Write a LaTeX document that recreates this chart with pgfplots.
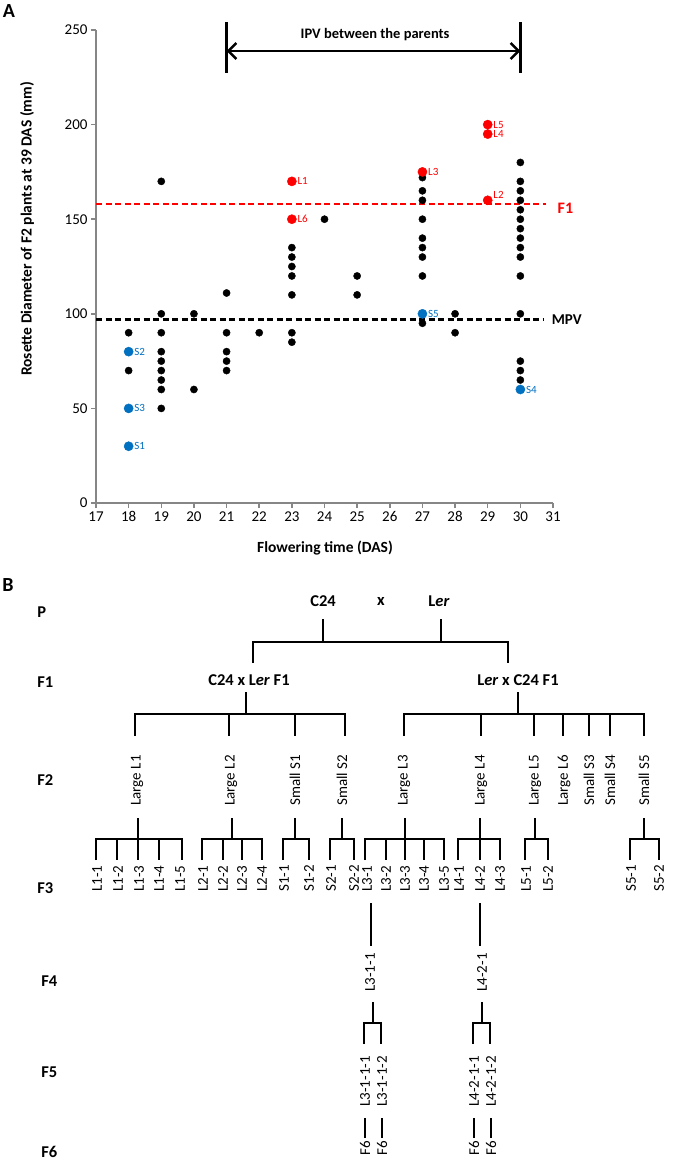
\documentclass[border=0pt]{standalone}
\usepackage{fontspec}
\setmainfont{Carlito}
\usepackage{pgfplots}
\pgfplotsset{compat=1.18}
\usetikzlibrary{arrows.meta}
\definecolor{axgray}{RGB}{134,134,134}
\definecolor{xlred}{RGB}{255,0,0}
\definecolor{xlblue}{RGB}{0,112,192}
\newcommand{\fs}[1]{\fontsize{#1}{#1}\selectfont}
\begin{document}
\begin{tikzpicture}
\useasboundingbox (0,0) rectangle (677pt,-1160pt);
\begin{axis}[
  at={(96pt,-503pt)}, anchor=south west,
  scale only axis, width=457pt, height=473pt,
  xmin=17, xmax=31, ymin=0, ymax=250,
  xtick={17,...,31}, ytick={0,50,...,250},
  axis x line*=bottom, axis y line*=left,
  axis line style={axgray, line width=2pt},
  major tick style={axgray, line width=1.5pt},
  major tick length=5pt, tick align=outside,
  tick label style={font=\fs{15}},
  /pgf/number format/assume math mode=true,
  clip=false,
]
% reference lines
\addplot[xlred, line width=2.2pt, dash pattern=on 6pt off 3.5pt] coordinates {(17,158) (30.8,158)};
\addplot[black, line width=2.2pt, dash pattern=on 6pt off 3.5pt] coordinates {(17,97) (30.7,97)};
% F2 plants
\addplot[only marks, mark=*, mark size=3.6pt, black] table {
x y
18 90
18 70
19 170
19 100
19 90
19 80
19 75
19 70
19 65
19 60
19 50
20 100
20 60
21 111
21 90
21 80
21 75
21 70
22 90
23 135
23 130
23 125
23 120
23 110
23 90
23 85
24 150
25 120
25 110
27 172
27 165
27 160
27 150
27 140
27 135
27 130
27 120
27 95
28 100
28 90
30 180
30 170
30 165
30 160
30 155
30 150
30 145
30 140
30 135
30 130
30 120
30 100
30 75
30 70
30 65
};
% large selected
\addplot[only marks, mark=*, mark size=4.6pt, color=xlred, mark options={fill=xlred, draw=xlred},
  nodes near coords, point meta=explicit symbolic,
  nodes near coords style={anchor=west, xshift=4.5pt, inner sep=1pt, text=xlred, font=\fs{11}}]
  table[meta=lab] {
x y lab
23 170 L1
23 150 L6
27 175 L3
29 200 L5
29 195 L4
};
\addplot[only marks, mark=*, mark size=4.6pt, color=xlred, mark options={fill=xlred, draw=xlred},
  nodes near coords, point meta=explicit symbolic,
  nodes near coords style={anchor=west, xshift=4.5pt, yshift=5pt, inner sep=1pt, text=xlred, font=\fs{11}}]
  table[meta=lab] {
x y lab
29 160 L2
};
% small selected
\addplot[only marks, mark=*, mark size=4.6pt, color=xlblue, mark options={fill=xlblue, draw=xlblue},
  nodes near coords, point meta=explicit symbolic,
  nodes near coords style={anchor=west, xshift=4.5pt, inner sep=1pt, text=xlblue, font=\fs{11}}]
  table[meta=lab] {
x y lab
18 80 S2
18 50 S3
18 30 S1
27 100 S5
30 60 S4
};
% annotations
\draw[line width=2.5pt] (axis cs:21,254) -- (axis cs:21,227.4);
\draw[line width=2.5pt] (axis cs:30,254) -- (axis cs:30,227.4);
\draw[line width=2.5pt, {Straight Barb[length=8pt,width=16pt]}-{Straight Barb[length=8pt,width=16pt]}] (axis cs:21,238.9) -- (axis cs:30,238.9);
\node[font=\bfseries\fs{14.5}] at (axis cs:25.55,247.4) {IPV between the parents};
\node[text=xlred, font=\bfseries\fs{16}] at (axis cs:31.38,156) {F1};
\node[font=\bfseries\fs{15}] at (axis cs:31.42,96.7) {MPV};
\end{axis}
\node[font=\bfseries\fs{20}] at (9pt,-11pt) {A};
\node[rotate=90, font=\bfseries\fs{15.5}] at (27pt,-229pt) {Rosette Diameter of F2 plants at 39 DAS (mm)};
\node[font=\bfseries\fs{15.5}] at (325pt,-548pt) {Flowering time (DAS)};
% ---------------- panel B -----------------
\begin{scope}[x=1pt, y=-1pt, line width=2.8pt, line join=miter]
\node[font=\bfseries\fs{20}] at (8,585) {B};
\foreach \t/\xx/\yy in {P/36/612, F1/36/682, F2/36/780, F3/36/888, F4/40/981, F5/40/1072, F6/40/1152}
  \node[anchor=west, inner sep=0pt, font=\bfseries\fs{16.5}] at (\xx,\yy) {\t};
% P
\node[font=\bfseries\fs{16.5}] at (323,601) {C24};
\node[font=\bfseries\fs{16.5}] at (381,601) {x};
\node[font=\bfseries\fs{16.5}] at (439,601) {L\textit{er}};
\draw (323,619)--(323,642);
\draw (441,619)--(441,642);
\draw (253,663)--(253,642)--(508,642)--(508,663);
% F1
\node[font=\bfseries\fs{16.5}] at (249,680) {C24 x L\textit{er} F1};
\node[font=\bfseries\fs{16.5}] at (518,680) {L\textit{er} x C24 F1};
\draw (246,692)--(246,714);
\draw (135,736)--(135,714)--(345,714)--(345,736);
\foreach \d in {229,295} \draw (\d,714)--(\d,736);
\draw (518,692)--(518,714);
\draw (404,736)--(404,714)--(644,714)--(644,736);
\foreach \d in {481,534,563,589,610} \draw (\d,714)--(\d,736);
% F2 labels
\foreach \t/\xx in {Large L1/137, Large L2/231, Small S1/295, Small S2/342, Large L3/404, Large L4/481, Large L5/535, Large L6/564, Small S3/589, Small S4/610, Small S5/644}
  \node[rotate=90, anchor=west, inner sep=0pt, font=\fs{15}] at (\xx,807) {\t};
% F2 groups
\draw (138,818)--(138,839); \draw (96,860)--(96,839)--(182,839)--(182,860);
\foreach \d in {117,138,159} \draw (\d,839)--(\d,860);
\draw (232,818)--(232,839); \draw (202,860)--(202,839)--(262,839)--(262,860);
\foreach \d in {223,242} \draw (\d,839)--(\d,860);
\draw (295,818)--(295,839); \draw (283,860)--(283,839)--(309,839)--(309,860);
\draw (342,818)--(342,839); \draw (330,860)--(330,839)--(354,839)--(354,860);
\draw (405,818)--(405,839); \draw (365,860)--(365,839)--(444,839)--(444,860);
\foreach \d in {386,405,424} \draw (\d,839)--(\d,860);
\draw (480,818)--(480,839); \draw (458,860)--(458,839)--(500,839)--(500,860);
\draw (480,839)--(480,860);
\draw (535,818)--(535,839); \draw (525,860)--(525,839)--(548,839)--(548,860);
\draw (644,818)--(644,839); \draw (630,860)--(630,839)--(659,839)--(659,860);
% F3 labels
\foreach \t/\xx in {L1-1/97, L1-2/118, L1-3/139, L1-4/159, L1-5/180, L2-1/203, L2-2/223, L2-3/242, L2-4/262, S1-1/284, S1-2/309, S2-1/331, S2-2/354, L3-1/367, L3-2/386, L3-3/405, L3-4/424, L3-5/444, L4-1/459, L4-2/480, L4-3/500, L5-1/526, L5-2/548, S5-1/631, S5-2/659}
  \node[rotate=90, anchor=west, inner sep=0pt, font=\fs{15}] at (\xx,893) {\t};
% F3 -> F4
\draw (371,903)--(371,946);
\draw (480,903)--(480,946);
\node[rotate=90, anchor=west, inner sep=0pt, font=\fs{15}] at (370,993) {L3-1-1};
\node[rotate=90, anchor=west, inner sep=0pt, font=\fs{15}] at (482,993) {L4-2-1};
% F4 -> F5
\draw (373,1002)--(373,1023); \draw (364,1044)--(364,1023)--(381,1023)--(381,1044);
\draw (482,1002)--(482,1023); \draw (473,1044)--(473,1023)--(490,1023)--(490,1044);
\foreach \t/\xx in {L3-1-1-1/365, L3-1-1-2/382, L4-2-1-1/474, L4-2-1-2/491}
  \node[rotate=90, anchor=west, inner sep=0pt, font=\fs{15}] at (\xx,1108) {\t};
% F6
\foreach \xx in {365,382,474,491} {
  \draw (\xx,1118)--(\xx,1138);
  \node[rotate=90, anchor=west, inner sep=0pt, font=\fs{15}] at (\xx,1157) {F6};
}
\end{scope}
\end{tikzpicture}
\end{document}
